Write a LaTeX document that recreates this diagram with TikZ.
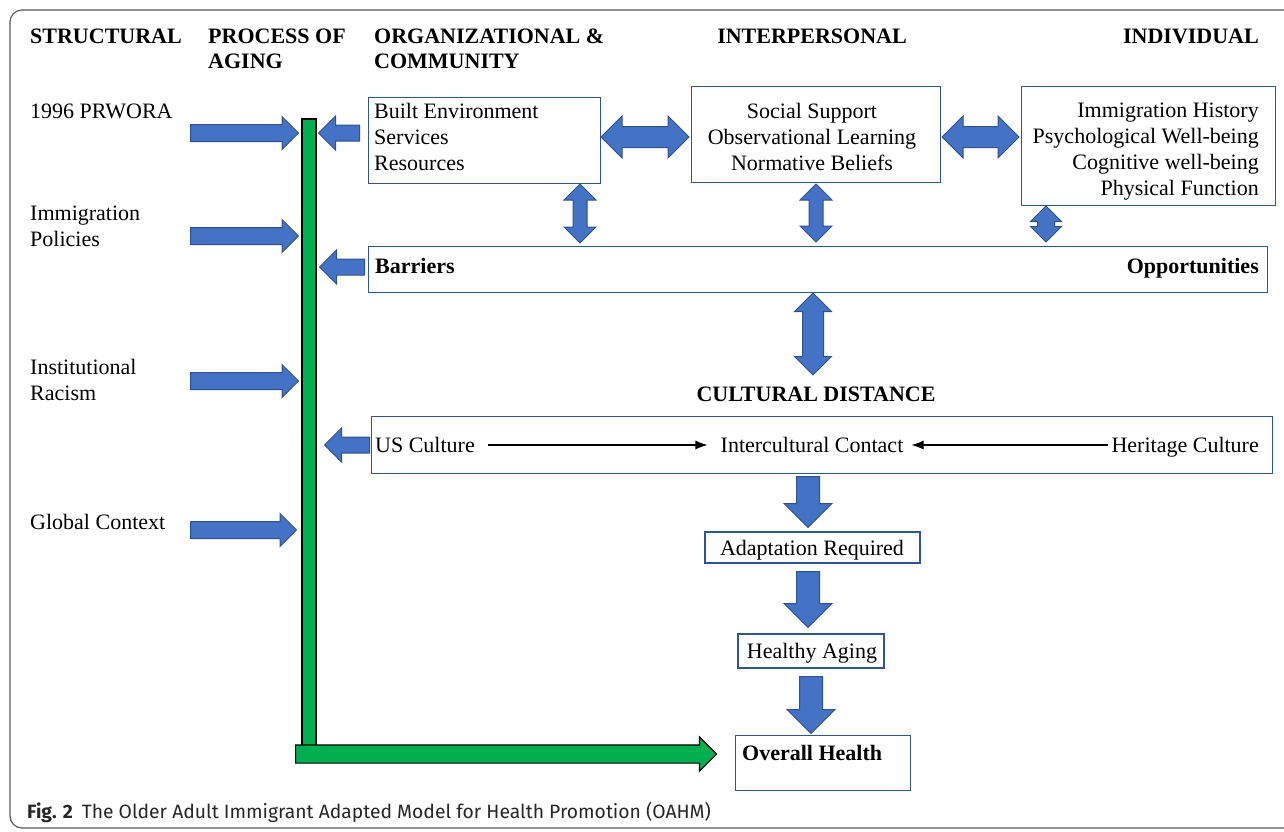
\documentclass[tikz,border=0pt]{standalone}
\usepackage{fontspec}
\setmainfont{Liberation Serif}
\setsansfont{Fira Sans}
\usetikzlibrary{math,shapes.arrows,arrows.meta}

\definecolor{arrowblue}{HTML}{4472C4}
\definecolor{arrowedge}{HTML}{2F528F}
\definecolor{boxedge}{HTML}{2F5597}
\definecolor{agegreen}{HTML}{00B050}
\definecolor{framegray}{HTML}{5A5A5A}

\tikzset{
  box/.style={draw=boxedge, line width=1.3pt, inner sep=0pt},
  lbl/.style={font=\fontsize{22}{26}\selectfont, inner sep=0pt, align=left},
  hd/.style={font=\fontsize{22}{25}\selectfont\bfseries, inner sep=0pt, align=left},
  % #1 length, #2 half shaft, #3 head extend
  sarr/.style n args={3}{single arrow, draw=arrowedge, fill=arrowblue, line width=1pt, anchor=tail,
    inner xsep=0pt, inner ysep=#2, minimum height=#1, single arrow head extend=#3},
  darr/.style n args={3}{double arrow, draw=arrowedge, fill=arrowblue, line width=1pt,
    inner xsep=0pt, inner ysep=#2, minimum height=#1, double arrow head extend=#3},
  thin/.style={-{Latex[length=12pt,width=9pt]}, line width=1.1pt},
}

\begin{document}
\begin{tikzpicture}[x=1pt, y=-1pt]
  \tikzmath{%
    \hb = 43; \lx = 30; \ax = 190;
  }
  \useasboundingbox (0,0) rectangle (1284,831);
  \draw[framegray, line width=1.2pt, rounded corners=12pt] (10,10) rectangle (1300,828);

  % column heads
  \node[hd, anchor=base west] (hstruct) at (\lx,\hb) {STRUCTURAL};
  \node[hd, anchor=base west] (hproc) at (208,\hb+25) {PROCESS OF\\AGING};
  \node[hd, anchor=base west] (horg) at (374,\hb+25) {ORGANIZATIONAL \&\\COMMUNITY};
  \node[hd, anchor=base] (hinter) at (812,\hb) {INTERPERSONAL};
  \node[hd, anchor=base east] (hindiv) at (1259,\hb) {INDIVIDUAL};

  % structural factors
  \node[lbl, anchor=base west] (prwora) at (\lx,118) {1996 PRWORA};
  \node[lbl, anchor=base west] (policy) at (\lx,246) {Immigration\\Policies};
  \node[lbl, anchor=base west] (racism) at (\lx,400) {Institutional\\Racism};
  \node[lbl, anchor=base west] (global) at (\lx,529) {Global Context};

  \node[sarr={108pt}{8pt}{8pt}] (a1) at (\ax,133) {};
  \node[sarr={108pt}{8pt}{8pt}] (a2) at (\ax,236) {};
  \node[sarr={108pt}{8pt}{8pt}] (a3) at (\ax,381) {};
  \node[sarr={106pt}{8pt}{8pt}] (a4) at (\ax,530) {};

  % process of aging
  \node[draw=black, fill=agegreen, line width=1.2pt, minimum width=14pt, minimum height=629pt,
    inner sep=0pt] (aging) at (309,433.5) {};
  \node[single arrow, draw=black, fill=agegreen, line width=1.2pt, anchor=tail, inner xsep=0pt,
    inner ysep=8.5pt, minimum height=421pt, single arrow head extend=8pt] (toward) at (295,754) {};

  % boxes
  \node[box, anchor=north west, minimum width=232pt, minimum height=86pt] (org) at (368,97) {};
  \node[lbl, anchor=base west] (orgtxt) at (374,170) {Built Environment\\Services\\Resources};
  \node[box, anchor=north west, minimum width=249pt, minimum height=96pt] (inter) at (691,86) {};
  \node[lbl, align=center, anchor=base] (intertxt) at (812,170)
    {Social Support\\Observational Learning\\Normative Beliefs};
  \node[box, anchor=north west, minimum width=254pt, minimum height=119pt] (indiv) at (1021,86) {};
  \node[lbl, align=right, anchor=base east] (indivtxt) at (1259,195)
    {Immigration History\\Psychological Well-being\\Cognitive well-being\\Physical Function};

  \node[darr={88pt}{10pt}{10.5pt}] (d1) at (645,137) {};
  \node[darr={77pt}{10pt}{10.5pt}] (d2) at (980.5,137) {};
  \node[darr={59pt}{6.5pt}{9pt}, rotate=90] (v1) at (580,213.5) {};
  \node[darr={58pt}{6.5pt}{9pt}, rotate=90] (v2) at (816,213) {};
  \node[darr={36pt}{8pt}{7pt}, rotate=90] (v3) at (1046,224) {};

  \node[box, anchor=north west, minimum width=899pt, minimum height=46pt] (barr) at (368,246) {};
  \node[hd, anchor=base west] (barrtxt) at (375,273) {Barriers};
  \node[hd, anchor=base east] (opptxt) at (1259,273) {Opportunities};
  \node[sarr={41pt}{7.5pt}{9pt}, rotate=180] (l1) at (360,133) {};
  \node[sarr={45pt}{7.5pt}{9pt}, rotate=180] (l2) at (365,267) {};

  \node[darr={82pt}{10pt}{8pt}, rotate=90] (v4) at (813,334) {};
  \node[hd, anchor=base] (cdist) at (816,401) {CULTURAL DISTANCE};

  \node[box, anchor=north west, minimum width=901pt, minimum height=57pt] (cult) at (371,416) {};
  \node[lbl, anchor=base west] (us) at (375,452) {US Culture};
  \node[lbl, anchor=base] (contact) at (812,452) {Intercultural Contact};
  \node[lbl, anchor=base east] (heritage) at (1259,452) {Heritage Culture};
  \draw[thin] ([xshift=13pt,yshift=7pt]us.base east) -- ([xshift=-13pt,yshift=7pt]contact.base west);
  \draw[thin] ([xshift=-3pt,yshift=7pt]heritage.base west) -- ([xshift=8pt,yshift=7pt]contact.base east);
  \node[sarr={45pt}{7.5pt}{9pt}, rotate=180] (l3) at (370,445) {};

  % outcome chain
  \node[sarr={51pt}{11pt}{12.5pt}, rotate=-90] (down1) at (808,476) {};
  \node[box, minimum width=215pt, minimum height=31pt] (adapt) at (812.5,547.5) {};
  \node[lbl, anchor=base] (adapttxt) at (812,555) {Adaptation Required};
  \node[sarr={56pt}{11pt}{12.5pt}, rotate=-90] (down2) at (808,571) {};
  \node[box, minimum width=146pt, minimum height=34pt] (healthy) at (811,651) {};
  \node[lbl, anchor=base] (healthytxt) at (812,658) {Healthy Aging};
  \node[sarr={57pt}{11pt}{12.5pt}, rotate=-90] (down3) at (811,676) {};
  \node[box, anchor=north west, minimum width=175pt, minimum height=55pt] (overall) at (735,735) {};
  \node[hd, anchor=base west] (overtxt) at (742,760) {Overall Health};

  \node[anchor=base west, inner sep=0pt, text=black!85, font=\sffamily\fontsize{19.3}{22}\selectfont] (cap)
    at (27,818) {\textbf{Fig. 2}\hspace{9pt}The Older Adult Immigrant Adapted Model for Health Promotion (OAHM)};
\end{tikzpicture}
\end{document}
